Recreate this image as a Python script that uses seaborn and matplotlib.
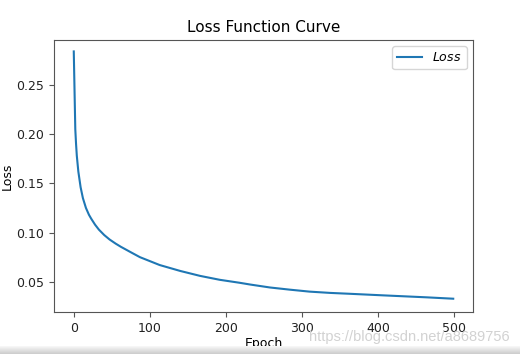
import pandas as pd
import numpy as np
import matplotlib
matplotlib.use("Agg")
import matplotlib.pyplot as plt
import seaborn as sns

# values
epoch = [0, 2, 3, 4, 6, 9, 12, 16, 20, 23, 28, 33, 40, 47, 55, 62, 75, 87, 113, 140,
         166, 192, 218, 232, 258, 284, 310, 337, 363, 407, 464, 499]
loss = [0.284, 0.205, 0.190, 0.178, 0.162, 0.146, 0.135, 0.125, 0.118, 0.114, 0.108,
        0.103, 0.0975, 0.093, 0.0888, 0.0855, 0.080, 0.075, 0.067, 0.061, 0.056, 0.052,
        0.049, 0.0472, 0.0442, 0.042, 0.040, 0.0387, 0.0378, 0.0362, 0.0342, 0.0328]
xticks = [0, 100, 200, 300, 400, 500]
yticks = [0.05, 0.10, 0.15, 0.20, 0.25]

df = pd.DataFrame({"Epoch": epoch, "Loss": loss})

plt.rcParams["font.size"] = 9
fig = plt.figure(figsize=(5.2, 3.54), dpi=100)
ax = fig.add_axes([54/520, 42/354, 419/520, 272/354])

sns.lineplot(x="Epoch", y="Loss", data=df, ax=ax, color="#1f77b4", linewidth=1.5, label="$Loss$")
ax.set_xticks(xticks)
ax.set_yticks(yticks)
ax.set_xlim(-26, 525)
ax.set_ylim(0.0193, 0.2956)
ax.set_title("Loss Function Curve", fontsize=11, pad=6)
ax.set_xlabel("Epoch", fontsize=9, labelpad=2)
ax.set_ylabel("Loss", fontsize=9, labelpad=2)
for s in ax.spines.values():
    s.set_color("#555555")
ax.tick_params(colors="#555555", labelcolor="#222222")
ax.legend(loc="upper right", fontsize=9, edgecolor="#cccccc")

# watermark and bottom bar from the screenshot
fig.text(510/520, 17/354, "https://blog.csdn.net/a8689756", ha="right", va="center",
         color="#d2d2d2", fontsize=10.5, family="Liberation Sans")
bar = fig.add_axes([0, 0, 1, 8/354])
bar.imshow(np.linspace(0.97, 0.8, 20).reshape(-1, 1), aspect="auto", cmap="gray", vmin=0, vmax=1)
bar.axis("off")

fig.savefig("out.png", dpi=100)
